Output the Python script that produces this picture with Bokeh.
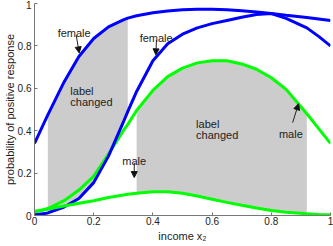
import numpy as np
from bokeh.plotting import figure
from bokeh.models import Label, Arrow, NormalHead, GlobalInlineStyleSheet
from bokeh.embed import file_html
from bokeh.resources import INLINE

# ---- data ----
income = [0, 0.045, 0.1, 0.15, 0.2, 0.25, 0.3, 0.315, 0.345, 0.4, 0.45, 0.5,
          0.55, 0.6, 0.65, 0.7, 0.75, 0.8, 0.85, 0.92, 0.96, 1.0]
female_a = [0.34, 0.475, 0.63, 0.75, 0.835, 0.89, 0.923, 0.931, 0.942, 0.956, 0.965, 0.970,
            0.973, 0.973, 0.971, 0.966, 0.960, 0.953, 0.945, 0.934, 0.927, 0.92]
female_b = [0.003, 0.012, 0.04, 0.08, 0.155, 0.28, 0.44, 0.49, 0.585, 0.73, 0.81, 0.855,
            0.885, 0.905, 0.92, 0.935, 0.948, 0.953, 0.93, 0.885, 0.845, 0.80]
male_a = [0.015, 0.033, 0.07, 0.12, 0.185, 0.29, 0.40, 0.43, 0.495, 0.59, 0.655, 0.695,
          0.72, 0.73, 0.73, 0.715, 0.69, 0.65, 0.595, 0.48, 0.41, 0.34]
male_b = [0.02, 0.03, 0.045, 0.058, 0.07, 0.085, 0.097, 0.10, 0.105, 0.112, 0.112, 0.105,
          0.092, 0.077, 0.062, 0.048, 0.035, 0.024, 0.015, 0.008, 0.005, 0.003]
region_female = [0.045, 0.315]   # x-range of first shaded region
region_male = [0.345, 0.92]      # x-range of second shaded region
x_ticks = [0, 0.2, 0.4, 0.6, 0.8, 1]
y_ticks = [0, 0.2, 0.4, 0.6, 0.8, 1]

FONT = "Liberation Sans"
BLUE = "#0000ff"
GREEN = "#00ff00"
GRAY = "#cccccc"

x = np.array(income)
fa, fb, ma, mb = map(np.array, (female_a, female_b, male_a, male_b))

p = figure(width=333, height=246, x_range=(0, 1), y_range=(0, 1),
           output_backend="svg", toolbar_location=None,
           min_border_left=33, min_border_right=3, min_border_top=3, min_border_bottom=31)
p.stylesheets = [GlobalInlineStyleSheet(css="body { margin: 0; }")]
p.outline_line_color = None
p.grid.visible = False
p.background_fill_color = "white"

# shaded regions
m1 = (x >= region_female[0] - 1e-9) & (x <= region_female[1] + 1e-9)
p.varea(x=x[m1], y1=fb[m1], y2=fa[m1], fill_color=GRAY)
m2 = (x >= region_male[0] - 1e-9) & (x <= region_male[1] + 1e-9)
p.varea(x=x[m2], y1=mb[m2], y2=ma[m2], fill_color=GRAY)

# curves
p.line(x, fa, line_color=BLUE, line_width=3)
p.line(x, ma, line_color=GREEN, line_width=3)
p.line(x, fb, line_color=BLUE, line_width=3)
p.line(x, mb, line_color=GREEN, line_width=3)

# axes
for ax in (p.xaxis[0], p.yaxis[0]):
    ax.ticker = x_ticks if ax is p.xaxis[0] else y_ticks
    ax.major_tick_in = 3
    ax.major_tick_out = 0
    ax.minor_tick_line_color = None
    ax.axis_line_color = "#777777"
    ax.major_tick_line_color = "#777777"
    ax.major_label_text_font = FONT
    ax.major_label_text_font_size = "10px"
    ax.major_label_text_color = "#222222"
    ax.axis_label_text_font = FONT
    ax.axis_label_text_font_size = "11px"
    ax.axis_label_text_font_style = "normal"
    ax.axis_label_text_color = "#222222"
p.xaxis.major_label_overrides = {0: "0", 1: "1"}
p.yaxis.major_label_overrides = {0: "0", 1: "1"}
p.xaxis.axis_label = "income x₂"
p.yaxis.axis_label = "probability of positive response"
p.xaxis.major_label_standoff = 1
p.xaxis.axis_label_standoff = 2
p.yaxis.major_label_standoff = 3
p.yaxis.axis_label_standoff = -1

def label(xv, yv, txt, align="center"):
    p.add_layout(Label(x=xv, y=yv, text=txt, text_font=FONT, text_font_size="11px",
                       text_color="#222222", text_align=align, text_baseline="alphabetic"))

def arrow(x0, y0, x1, y1):
    p.add_layout(Arrow(x_start=x0, y_start=y0, x_end=x1, y_end=y1,
                       line_color="#222222", line_width=1,
                       end=NormalHead(size=6, fill_color="#111111", line_color="#111111", line_width=1)))

label(0.134, 0.861, "female")
arrow(0.141, 0.850, 0.151, 0.767)
label(0.411, 0.838, "female")
arrow(0.412, 0.828, 0.410, 0.758)
label(0.121, 0.588, "label", "left")
label(0.121, 0.536, "changed", "left")
label(0.546, 0.433, "label", "left")
label(0.546, 0.381, "changed", "left")
label(0.866, 0.386, "male")
arrow(0.872, 0.438, 0.892, 0.527)
label(0.337, 0.259, "male")
arrow(0.337, 0.249, 0.337, 0.179)

open("out.html", "w").write(file_html(p, INLINE))
